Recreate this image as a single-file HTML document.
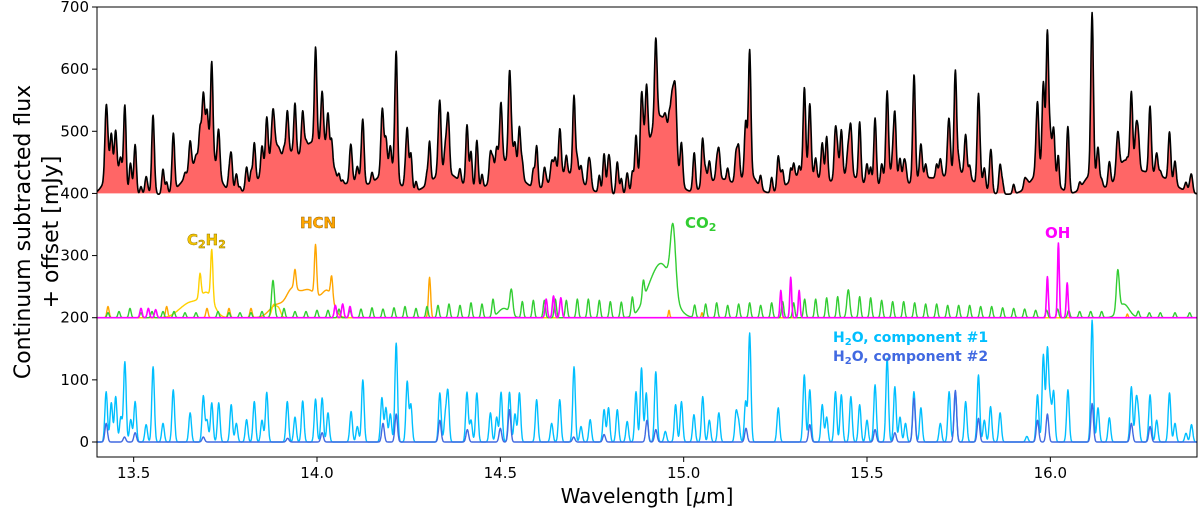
<!DOCTYPE html>
<html><head><meta charset="utf-8"><title>Spectrum</title>
<style>
html,body{margin:0;padding:0;background:#fff;}
svg{display:block;font-family:"DejaVu Sans","Liberation Sans",sans-serif;}
</style></head>
<body>
<svg id="chart" width="1200" height="513" viewBox="0 0 1200 513" xmlns="http://www.w3.org/2000/svg">
<defs><clipPath id="clip"><rect x="97" y="7" width="1100" height="450"/></clipPath></defs>
<g id="plot" clip-path="url(#clip)"></g>
<rect x="97" y="7" width="1100" height="450" fill="none" stroke="#000" stroke-width="1"/>
<g id="axes"></g>
<text x="30" y="232" font-size="22" text-anchor="middle" transform="rotate(-90 30 232)">Continuum subtracted flux</text>
<text x="58" y="232" font-size="22" text-anchor="middle" transform="rotate(-90 58 232)">+ offset [mJy]</text>
<text x="647" y="503" font-size="20" text-anchor="middle">Wavelength [<tspan font-style="italic">μ</tspan>m]</text>
<g font-weight="bold" font-size="15">
<text x="187" y="245" fill="#f5c400" stroke="#8a7000" stroke-width="0.4">C<tspan font-size="11" dy="3">2</tspan><tspan dy="-3">H</tspan><tspan font-size="11" dy="3">2</tspan></text>
<text x="300" y="228" fill="#ffa500" stroke="#8a5a00" stroke-width="0.4">HCN</text>
<text x="685" y="228" fill="#32cd32">CO<tspan font-size="11" dy="3">2</tspan></text>
<text x="1045" y="238" fill="#ff00ff">OH</text>
<text x="833" y="342" fill="#00bfff" font-size="14">H<tspan font-size="10" dy="3">2</tspan><tspan dy="-3">O, component #1</tspan></text>
<text x="833" y="361" fill="#4169e1" font-size="14">H<tspan font-size="10" dy="3">2</tspan><tspan dy="-3">O, component #2</tspan></text>
</g>
</svg>
<script>
// ---- data: line positions (µm), amplitudes (mJy above offset), widths (sigma µm) ----
const xTicks = [13.5, 14.0, 14.5, 15.0, 15.5, 16.0];
const yTicks = [0, 100, 200, 300, 400, 500, 600, 700];

// extra pseudo-continuum seen in the observed spectrum (added to the component sum)
const obsBroadPos = [13.44,13.70,13.88,14.00,14.19,14.35,14.52,14.68,14.93,15.18,15.33,15.45,15.56,15.75,15.98,16.11,16.22,14.10,15.10,15.65,16.30];
const obsBroadAmp = [35,45,40,45,35,35,40,35,40,30,35,30,30,35,40,30,35,20,25,25,25];
const obsBroadWid = [0.02,0.03,0.04,0.03,0.03,0.04,0.04,0.04,0.03,0.02,0.04,0.04,0.02,0.04,0.03,0.02,0.04,0.03,0.04,0.04,0.04];
// weight of OH in the total model
const ohWeight = [0.3];

const c2h2Pos = [13.713,13.681,13.70,13.66,13.63,13.882,13.895];
const c2h2Amp = [80,38,38,20,10,20,15];
const c2h2Wid = [0.003,0.003,0.018,0.02,0.02,0.006,0.006];

const hcnPos = [13.43,13.59,13.70,13.76,13.82,13.996,13.94,14.04,13.975,14.03,13.93,13.89,14.307,14.96,15.05,16.21];
const hcnAmp = [18,18,15,15,15,80,30,35,45,35,30,20,65,12,8,6];
const hcnWid = [0.003,0.003,0.003,0.003,0.003,0.003,0.003,0.003,0.03,0.015,0.015,0.02,0.003,0.002,0.002,0.002];

const co2Pos = [13.43,13.46,13.49,13.52,13.55,13.58,13.61,13.64,13.67,13.73,13.76,13.79,13.82,13.85,13.880,13.91,13.94,13.97,14.00,14.03,14.06,14.09,14.12,14.15,14.18,14.21,14.24,14.27,14.30,14.33,14.36,14.39,14.42,14.45,14.48,14.530,14.51,14.56,14.59,14.62,14.65,14.68,14.71,14.74,14.77,14.80,14.83,14.86,14.89,14.971,14.94,14.90,
15.03,15.06,15.09,15.12,15.15,15.18,15.21,15.24,15.27,15.30,15.33,15.36,15.39,15.42,15.449,15.48,15.51,15.54,15.57,15.60,15.63,15.66,15.69,15.72,15.75,15.78,15.81,15.84,15.87,15.90,15.93,15.96,15.99,16.02,16.05,16.08,16.11,16.14,16.184,16.20,16.24,16.27,16.30,16.34,16.38];
const co2Amp = [8,10,15,8,10,10,10,8,8,10,8,8,8,10,60,15,10,10,12,12,14,12,14,16,14,16,18,15,18,20,22,20,24,22,28,40,15,26,28,28,30,28,30,30,28,26,25,30,30,105,85,15,
20,22,24,20,22,24,20,24,26,24,30,30,32,34,45,34,32,28,26,26,24,22,22,20,20,20,18,18,16,15,14,12,12,14,12,10,10,10,65,22,10,8,8,8,8];
const co2Wid = [0.003,0.003,0.003,0.003,0.003,0.003,0.003,0.003,0.003,0.003,0.003,0.003,0.003,0.003,0.004,0.003,0.003,0.003,0.003,0.003,0.003,0.003,0.003,0.003,0.003,0.003,0.003,0.003,0.003,0.003,0.003,0.003,0.003,0.003,0.003,0.004,0.015,0.003,0.003,0.003,0.003,0.003,0.003,0.003,0.003,0.003,0.003,0.003,0.003,0.007,0.028,0.02,
0.003,0.003,0.003,0.003,0.003,0.003,0.003,0.003,0.003,0.003,0.003,0.003,0.003,0.003,0.004,0.003,0.003,0.003,0.003,0.003,0.003,0.003,0.003,0.003,0.003,0.003,0.003,0.003,0.003,0.003,0.003,0.003,0.003,0.003,0.003,0.003,0.003,0.003,0.004,0.015,0.003,0.003,0.003,0.003,0.003];

const ohPos = [13.52,13.54,13.56,14.05,14.07,14.09,14.625,14.645,14.665,15.265,15.292,15.315,15.992,16.022,16.046];
const ohAmp = [15,15,13,20,22,18,30,35,32,44,65,44,66,120,56];
const ohWid = [0.003,0.003,0.003,0.003,0.003,0.003,0.003,0.003,0.003,0.0025,0.0025,0.0025,0.0025,0.0025,0.0025];

const w1Pos = [13.425,13.439,13.451,13.476,13.492,13.504,13.534,13.553,13.608,13.654,13.690,13.713,13.732,13.766,13.808,13.829,13.863,13.919,13.961,13.996,14.014,14.030,14.093,14.125,14.177,14.188,14.216,14.246,14.256,14.335,14.357,14.409,14.436,14.473,14.502,14.525,14.552,14.599,14.662,14.701,14.745,
14.783,14.795,14.819,14.846,14.870,14.885,14.898,14.924,14.950,14.978,14.994,15.028,15.052,15.096,15.143,15.169,15.180,15.258,15.329,15.344,15.378,15.414,15.430,15.456,15.480,15.522,15.555,15.576,15.605,15.628,15.647,15.724,15.741,15.769,15.804,15.837,15.863,15.936,15.965,15.981,15.992,16.009,16.048,16.114,16.130,16.161,16.221,16.234,16.272,16.325,16.370,16.385,
13.465,13.58,13.70,13.78,13.85,13.94,14.11,14.20,14.35,14.42,14.49,14.54,14.64,14.72,15.07,15.15,15.39,15.50,15.59,15.70,15.82,16.00,16.24,16.29,16.34];
const w1Amp = [81,63,73,129,36,65,28,121,84,47,74,63,63,60,36,65,80,65,66,69,71,47,49,100,71,55,159,97,60,79,79,80,79,47,80,80,79,68,68,121,36,
52,55,52,33,81,119,79,113,17,60,65,44,73,47,47,65,175,55,108,84,60,81,76,73,60,92,135,89,30,81,55,81,81,65,108,57,47,9,76,140,148,81,84,196,55,39,89,63,76,79,14,28,
40,30,35,30,35,40,25,45,40,35,40,45,30,25,35,30,40,35,40,30,35,60,40,35,30];

const w2Pos = [13.425,13.475,13.504,13.69,13.92,14.014,14.18,14.216,14.335,14.41,14.50,14.525,14.70,14.783,14.90,14.924,15.170,15.344,15.522,15.576,15.628,15.741,15.804,15.965,15.992,16.114,16.221,16.272];
const w2Amp = [30,8,15,8,6,15,30,45,35,20,22,52,8,12,35,20,22,28,20,15,70,83,38,35,45,62,30,25];

// ---- axis functions ----
const X = l => 97 + (l - 13.4) * (1100 / 3.0);
const Y = v => 442 - v * (435 / 700);

function profile(l, pos, amp, wid) {
  let s = 0;
  for (let i = 0; i < pos.length; i++) {
    const w = Array.isArray(wid) ? wid[i] : wid;
    const d = (l - pos[i]) / w;
    if (Math.abs(d) < 6) s += amp[i] * Math.exp(-0.5 * d * d);
  }
  return s;
}
const grid = [];
for (let l = 13.39; l <= 16.41; l += 0.001) grid.push(l);

const comps = {
  c2h2: [c2h2Pos, c2h2Amp, c2h2Wid],
  hcn: [hcnPos, hcnAmp, hcnWid],
  co2: [co2Pos, co2Amp, co2Wid],
  oh: [ohPos, ohAmp, ohWid],
  ohTotal: [ohPos, ohAmp.map(a => a * ohWeight[0]), ohWid],
  w1: [w1Pos, w1Amp, 0.0035],
  w2: [w2Pos, w2Amp, 0.0035],
  broad: [obsBroadPos, obsBroadAmp, obsBroadWid]
};
function val(l, c) { return profile(l, c[0], c[1], c[2]); }

function seriesPoints(base, list, cap) {
  return grid.map(l => {
    let v = 0;
    list.forEach(c => { v += val(l, c); });
    if (cap) v = Math.min(v, cap);
    return [X(l), Y(base + v)];
  });
}
const NS = 'http://www.w3.org/2000/svg';
const plot = document.getElementById('plot');
function poly(pts, color, width, name) {
  const p = document.createElementNS(NS, 'polyline');
  p.setAttribute('points', pts.map(q => q[0].toFixed(1) + ',' + q[1].toFixed(1)).join(' '));
  p.setAttribute('fill', 'none');
  p.setAttribute('stroke', color);
  p.setAttribute('stroke-width', width);
  p.setAttribute('stroke-linejoin', 'round');
  
  
  plot.appendChild(p);
}

// top panel: total model (sum of components) as red fill, observed in black
const allComps = [comps.c2h2, comps.hcn, comps.co2, comps.ohTotal, comps.w1, comps.w2, comps.broad];
const modelPts = seriesPoints(400, allComps);
const fill = document.createElementNS(NS, 'polygon');
fill.setAttribute('points', [[X(13.39), Y(400)]].concat(modelPts).concat([[X(16.41), Y(400)]]).map(q => q[0].toFixed(1) + ',' + q[1].toFixed(1)).join(' '));
fill.setAttribute('fill', '#ff6666');


plot.appendChild(fill);
poly(modelPts.map(q => [q[0], q[1] + 1]), '#000', 1.6, 'observed-spectrum');

// molecule panel
poly(seriesPoints(200, [comps.hcn]), '#ffa500', 1.4, 'hcn-spectrum');
poly(seriesPoints(200, [comps.c2h2]), '#ffd000', 1.4, 'c2h2-spectrum');
poly(seriesPoints(200, [comps.co2]), '#32cd32', 1.4, 'co2-spectrum');
poly(seriesPoints(200, [comps.oh]), '#ff00ff', 1.6, 'oh-spectrum');

// H2O panel
poly(seriesPoints(0, [comps.w1], 196), '#00bfff', 1.4, 'h2o-component-1');
poly(seriesPoints(0, [comps.w2]), '#4169e1', 1.4, 'h2o-component-2');

// axes ticks
const axes = document.getElementById('axes');
xTicks.forEach(t => {
  const ln = document.createElementNS(NS, 'line');
  ln.setAttribute('x1', X(t)); ln.setAttribute('x2', X(t));
  ln.setAttribute('y1', 457); ln.setAttribute('y2', 462);
  ln.setAttribute('stroke', '#000');
  
  
  axes.appendChild(ln);
  const tx = document.createElementNS(NS, 'text');
  tx.setAttribute('x', X(t)); tx.setAttribute('y', 478);
  tx.setAttribute('font-size', '15'); tx.setAttribute('text-anchor', 'middle');
  tx.textContent = t.toFixed(1);
  
  
  axes.appendChild(tx);
});
yTicks.forEach(t => {
  const ln = document.createElementNS(NS, 'line');
  ln.setAttribute('x1', 92); ln.setAttribute('x2', 97);
  ln.setAttribute('y1', Y(t)); ln.setAttribute('y2', Y(t));
  ln.setAttribute('stroke', '#000');
  
  
  axes.appendChild(ln);
  const tx = document.createElementNS(NS, 'text');
  tx.setAttribute('x', 89); tx.setAttribute('y', Y(t) + 5);
  tx.setAttribute('font-size', '15'); tx.setAttribute('text-anchor', 'end');
  tx.textContent = t;
  
  
  axes.appendChild(tx);
});
</script>
</body></html>
